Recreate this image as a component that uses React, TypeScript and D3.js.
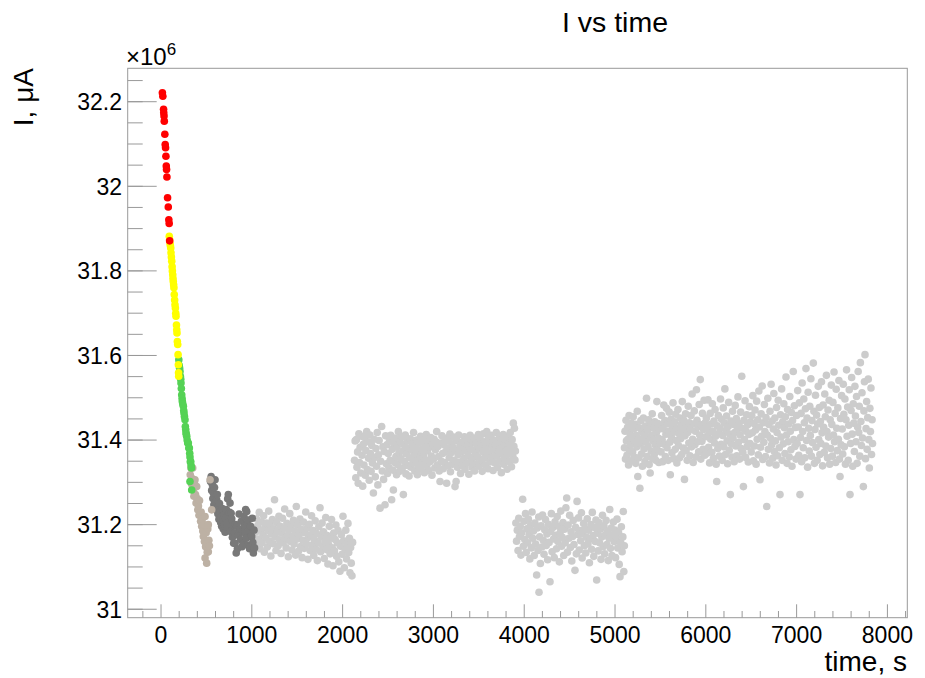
import React from 'react';
import * as d3 from 'd3';

const W = 925;
const H = 678;
const FRAME = { left: 127.7, right: 907.3, top: 68.3, bottom: 617.7 };
const X_DOMAIN: [number, number] = [-367, 8219];
const Y_DOMAIN: [number, number] = [30.98, 32.279];

const X_TICKS = [0, 1000, 2000, 3000, 4000, 5000, 6000, 7000, 8000];
const X_TICK_LABELS = ['0', '1000', '2000', '3000', '4000', '5000', '6000', '7000', '8000'];
const Y_TICKS = [31, 31.2, 31.4, 31.6, 31.8, 32, 32.2];
const Y_TICK_LABELS = ['31', '31.2', '31.4', '31.6', '31.8', '32', '32.2'];

const TITLE = 'I vs time';
const X_TITLE = 'time, s';
const Y_TITLE = 'I, \u03BCA';

// current values in mA  (1 mA = 1e3 µA  ->  value/1000 in units of 1e6 µA)
const RED: [number, number][] = [[15,32221],[20,32213],[28,32182],[30,32174],[33,32166],[36,32154],[42,32123],[46,32099],[50,32091],[54,32071],[58,32048],[61,32040],[65,32022],[72,31973],[80,31951],[86,31921],[90,31912],[95,31871]];

const YELLOW: [number, number][] = [[91,31882],[95,31874],[99,31866],[103,31860],[107,31854],[110,31843],[114,31833],[118,31823],[122,31810],[125,31800],[129,31791],[132,31782],[135,31775],[139,31767],[142,31760],[146,31744],[150,31731],[154,31720],[158,31712],[162,31700],[165,31693],[170,31672],[173,31661],[176,31653],[180,31633],[184,31626],[188,31602],[191,31578],[193,31559],[195,31551]];

const GREEN: [number, number][] = [[196,31590],[200,31577],[205,31570],[209,31562],[213,31551],[217,31544],[220,31535],[224,31522],[228,31507],[232,31498],[235,31491],[240,31485],[246,31480],[250,31470],[253,31464],[258,31456],[264,31448],[268,31432],[272,31425],[275,31417],[279,31413],[283,31409],[288,31400],[294,31393],[301,31393],[306,31381],[312,31381],[316,31369],[319,31360],[323,31349],[327,31349],[331,31340],[335,31334],[319,31302],[338,31282]];

const TAN: [number, number][] = [[322,31318],[330,31334],[336,31296],[343,31309],[349,31334],[356,31283],[362,31267],[368,31298],[374,31306],[380,31271],[386,31251],[393,31290],[399,31262],[405,31235],[412,31244],[418,31222],[424,31257],[430,31223],[436,31208],[442,31230],[448,31196],[454,31214],[460,31185],[466,31172],[472,31200],[478,31160],[485,31219],[485,31121],[491,31148],[497,31181],[503,31156],[503,31109],[509,31135],[515,31190],[521,31200],[521,31136],[527,31163],[533,31150],[540,31306],[558,31235]];

const DARK: [number, number][] = [[545,31302],[552,31314],[558,31281],[565,31295],[571,31262],[576,31275],[582,31247],[589,31288],[595,31306],[602,31254],[608,31235],[613,31259],[620,31271],[626,31226],[631,31242],[638,31213],[644,31250],[650,31230],[657,31205],[662,31219],[668,31196],[675,31238],[681,31210],[686,31190],[693,31224],[700,31201],[706,31182],[713,31215],[720,31236],[727,31194],[734,31261],[741,31271],[747,31206],[754,31229],[760,31251],[766,31184],[772,31227],[779,31214],[786,31170],[793,31198],[800,31156],[808,31181],[815,31156],[822,31200],[828,31133],[834,31196],[841,31143],[850,31175],[860,31225],[868,31189],[876,31165],[884,31208],[892,31148],[900,31183],[906,31156],[913,31219],[920,31198],[925,31180],[932,31236],[938,31168],[944,31231],[950,31201],[956,31152],[961,31211],[968,31186],[975,31143],[980,31148],[987,31196],[993,31172],[999,31172],[1005,31215],[1011,31158],[1017,31133],[1024,31187],[1030,31145]];

const GREY_1: [number, number][] = [[1042,31182],[1050,31214],[1058,31151],[1066,31198],[1074,31166],[1082,31229],[1090,31143],[1098,31187],[1106,31207],[1114,31158],[1122,31176],[1130,31221],[1138,31135],[1146,31193],[1154,31169],[1162,31204],[1170,31147],[1178,31186],[1186,31232],[1194,31161],[1202,31199],[1210,31126],[1218,31178],[1226,31212],[1234,31155],[1242,31190],[1250,31259],[1258,31171],[1266,31139],[1274,31205],[1282,31183],[1290,31150],[1298,31220],[1306,31164],[1314,31196],[1322,31132],[1330,31180],[1338,31215],[1346,31157],[1354,31191],[1362,31237],[1370,31168],[1378,31145],[1386,31203],[1394,31175],[1402,31124],[1410,31188],[1418,31226],[1426,31160],[1434,31197],[1442,31140],[1450,31172],[1458,31210],[1466,31154],[1474,31185],[1482,31128],[1490,31243],[1498,31166],[1506,31199],[1514,31137],[1522,31177],[1530,31213],[1538,31148],[1546,31189],[1554,31122],[1562,31163],[1570,31206],[1578,31144],[1586,31181],[1594,31230],[1602,31155],[1610,31192],[1618,31118],[1626,31170],[1634,31201],[1642,31139],[1650,31176],[1658,31221],[1666,31152],[1674,31186],[1682,31127],[1690,31164],[1698,31209],[1706,31142],[1714,31179],[1722,31115],[1730,31157],[1738,31195],[1751,31240],[1758,31136],[1766,31171],[1774,31204],[1782,31148],[1790,31183],[1798,31120],[1806,31160],[1814,31217],[1822,31141],[1830,31174],[1838,31107],[1846,31153],[1854,31196],[1862,31131],[1870,31168],[1878,31212],[1886,31145],[1894,31103],[1902,31180],[1910,31138],[1918,31165],[1926,31199],[1934,31125],[1942,31157],[1950,31186],[1958,31112],[1971,31090],[1978,31149],[1986,31176],[1994,31130],[2004,31220],[2011,31162],[2019,31098],[2027,31141],[2035,31187],[2043,31119],[2051,31155],[2059,31203],[2067,31134],[2075,31168],[2081,31086],[2088,31146],[2095,31109],[2103,31079],[2110,31158]];

const GREY_2: [number, number][] = [[2131,31352],[2138,31398],[2145,31311],[2152,31401],[2158,31336],[2165,31372],[2172,31298],[2179,31415],[2186,31347],[2193,31383],[2200,31322],[2207,31409],[2214,31364],[2221,31291],[2228,31390],[2235,31341],[2242,31406],[2249,31317],[2256,31375],[2265,31420],[2272,31330],[2279,31396],[2286,31357],[2293,31305],[2300,31412],[2307,31368],[2314,31326],[2321,31387],[2328,31346],[2339,31275],[2346,31402],[2353,31359],[2360,31313],[2367,31380],[2374,31338],[2381,31418],[2388,31294],[2395,31365],[2402,31399],[2412,31239],[2419,31350],[2430,31432],[2437,31327],[2444,31384],[2451,31307],[2458,31373],[2467,31247],[2474,31410],[2481,31344],[2488,31389],[2495,31321],
[2502,31368],[2509,31335],[2516,31397],[2523,31352],[2530,31411],[2540,31259],[2547,31378],[2554,31329],[2559,31282],[2566,31391],[2573,31347],[2580,31405],[2587,31361],[2594,31318],[2601,31384],[2608,31342],[2614,31420],[2621,31370],[2628,31326],[2635,31395],[2642,31356],[2649,31408],[2656,31333],[2663,31374],[2669,31271],[2676,31389],[2683,31349],[2690,31412],[2697,31320],[2704,31367],[2711,31398],[2718,31340],[2725,31381],[2732,31315],[2739,31358],[2746,31403],[2753,31336],[2760,31376],[2767,31392],[2774,31345],[2781,31418],[2788,31362],[2795,31327],[2802,31386],[2809,31351],[2816,31400],[2823,31318],[2830,31372],[2837,31338],[2844,31394],[2851,31360],[2858,31409],[2865,31331],[2872,31379],[2879,31346],[2886,31402],[2893,31365],[2900,31323],[2907,31388],[2914,31353],[2921,31413],[2928,31339],[2935,31375],[2942,31397],[2949,31328],[2956,31383],[2963,31349],[2970,31406],[2977,31362],[2984,31317],[2991,31390],
[3001,31355],[3008,31402],[3015,31334],[3022,31377],[3029,31396],[3036,31420],[3043,31341],[3050,31385],[3057,31361],[3064,31327],[3073,31302],[3080,31393],[3087,31350],[3094,31410],[3101,31368],[3108,31332],[3115,31389],[3122,31347],[3129,31404],[3136,31373],[3146,31298],[3153,31381],[3160,31339],[3167,31398],[3174,31358],[3181,31414],[3188,31325],[3195,31370],[3202,31391],[3209,31343],[3216,31383],[3223,31407],[3230,31352],[3238,31290],[3245,31376],[3250,31302],[3257,31399],[3264,31336],[3271,31366],[3278,31412],[3285,31348],[3292,31387],[3299,31321],[3306,31372],[3313,31395],[3320,31340],[3327,31380],[3334,31356],[3341,31408],[3348,31331],[3355,31374],[3362,31401],[3369,31345],[3376,31389],[3383,31363],[3390,31319],[3397,31384],[3404,31411],[3411,31350],[3418,31377],[3425,31336],[3432,31397],[3439,31359],[3446,31405],[3453,31327],[3460,31371],[3467,31392],[3474,31344],[3481,31386],[3488,31361],[3495,31413],
[3502,31338],[3509,31379],[3516,31402],[3523,31352],[3530,31390],[3537,31326],[3544,31373],[3551,31415],[3558,31357],[3565,31396],[3572,31341],[3579,31383],[3587,31420],[3594,31364],[3601,31332],[3608,31405],[3615,31370],[3622,31348],[3629,31392],[3636,31411],[3643,31359],[3650,31384],[3657,31328],[3664,31376],[3671,31399],[3678,31346],[3685,31388],[3692,31418],[3699,31362],[3706,31335],[3713,31394],[3720,31371],[3727,31408],[3734,31350],[3741,31381],[3748,31323],[3755,31397],[3762,31366],[3769,31413],[3776,31343],[3783,31386],[3790,31402],[3797,31357],[3804,31376],[3811,31331],[3818,31409],[3825,31368],[3832,31392],[3839,31349],[3846,31418],[3853,31380],[3860,31337],[3867,31401],[3874,31362],[3880,31440],[3886,31385],[3892,31428],[3898,31353],[3903,31374]];

const GREY_3: [number, number][] = [[3908,31204],[3916,31161],[3924,31187],[3932,31139],[3940,31215],[3948,31172],[3956,31196],[3964,31128],[3972,31181],[3983,31260],[3990,31149],[3998,31208],[4006,31165],[4014,31226],[4022,31134],[4030,31190],[4038,31157],[4046,31213],[4054,31176],[4062,31119],[4070,31199],[4078,31145],[4086,31230],[4094,31168],[4102,31185],[4110,31127],[4118,31204],[4126,31154],[4137,31081],[4144,31192],[4152,31139],[4160,31218],[4163,31040],[4170,31171],[4178,31108],[4186,31197],[4194,31147],[4202,31223],[4210,31163],[4218,31130],[4226,31188],[4234,31212],[4242,31151],[4250,31178],[4258,31117],[4266,31201],[4274,31158],[4284,31065],[4291,31184],[4299,31226],[4307,31136],[4315,31193],[4323,31166],[4331,31122],[4339,31207],[4347,31175],[4355,31143],[4363,31219],[4371,31160],[4379,31196],[4387,31112],[4395,31181],[4403,31232],[4411,31149],[4419,31170],[4427,31205],[4435,31127],[4443,31189],[4451,31157],[4459,31240],[4468,31263],[4476,31135],[4484,31199],[4492,31168],[4500,31222],[4508,31146],[4516,31183],[4524,31114],[4532,31172],[4540,31210],[4548,31153],[4559,31092],[4566,31194],[4574,31131],[4582,31255],[4590,31177],[4598,31216],[4606,31140],[4614,31186],[4622,31162],[4630,31228],[4638,31121],[4646,31179],[4654,31203],[4662,31150],[4670,31191],[4678,31133],[4686,31170],[4694,31214],[4702,31155],[4710,31187],[4718,31110],[4726,31166],[4734,31200],[4742,31142],[4750,31229],[4758,31174],[4766,31125],[4774,31193],[4782,31160],[4790,31211],[4798,31069],[4806,31180],[4814,31138],[4822,31205],[4830,31157],[4838,31189],[4846,31118],[4854,31171],[4862,31222],[4870,31148],[4878,31197],[4886,31131],[4894,31176],[4902,31210],[4910,31153],[4918,31185],[4926,31115],[4934,31168],[4942,31236],[4950,31144],[4958,31192],[4966,31127],[4974,31174],[4982,31206],[4990,31160],[4998,31187],[5006,31122],[5014,31170],[5022,31213],[5030,31145],[5038,31182],[5046,31106],[5055,31077],[5062,31158],[5070,31195],[5078,31136],[5086,31171],[5091,31231],[5097,31089],[5103,31150]];

const GREY_4: [number, number][] = [[5104,31382],[5110,31421],[5115,31355],[5121,31447],[5126,31398],[5132,31364],[5138,31430],[5143,31402],[5149,31341],[5155,31458],[5160,31376],[5166,31415],[5172,31389],[5177,31440],[5183,31351],[5189,31408],[5194,31372],[5200,31455],[5206,31426],[5211,31360],[5217,31398],[5223,31437],[5228,31345],[5234,31411],[5240,31384],[5245,31468],[5251,31314],[5257,31402],[5262,31358],[5268,31429],[5274,31286],[5279,31391],[5285,31446],[5291,31367],[5296,31420],[5302,31338],[5308,31405],[5313,31452],[5319,31379],[5325,31414],[5330,31349],[5336,31433],[5342,31396],[5347,31499],[5353,31361],[5359,31423],[5364,31385],[5370,31448],[5376,31342],[5381,31407],[5387,31322],[5393,31436],[5398,31374],[5404,31411],[5410,31462],[5415,31356],[5421,31398],[5427,31428],[5432,31365],[5438,31443],[5444,31389],[5449,31352],[5455,31417],[5461,31491],[5466,31377],[5472,31439],[5478,31404],[5483,31347],[5489,31426],[5495,31392],
[5501,31436],[5507,31372],[5513,31458],[5519,31401],[5525,31349],[5531,31427],[5537,31483],[5543,31390],[5549,31446],[5555,31361],[5561,31414],[5567,31475],[5573,31382],[5579,31438],[5585,31352],[5591,31420],[5597,31466],[5603,31395],[5609,31318],[5615,31449],[5621,31407],[5627,31370],[5633,31432],[5639,31488],[5645,31356],[5651,31419],[5657,31443],[5663,31378],[5669,31461],[5675,31399],[5681,31346],[5687,31428],[5693,31472],[5699,31387],[5705,31415],[5711,31358],[5717,31452],[5723,31403],[5729,31437],[5735,31366],[5741,31491],[5747,31424],[5753,31381],[5759,31446],[5765,31307],[5771,31410],[5777,31462],[5783,31375],[5789,31433],[5795,31352],[5801,31418],[5807,31480],[5813,31393],[5819,31441],[5825,31363],[5831,31425],[5837,31458],[5843,31384],[5849,31509],[5855,31402],[5861,31347],[5867,31438],[5873,31469],[5879,31389],[5885,31421],[5891,31360],[5897,31519],[5903,31447],[5909,31396],[5915,31431],[5921,31372],[5927,31484],[5933,31412],[5939,31543],[5945,31355],[5951,31436],[5957,31397],[5963,31463],[5969,31378],[5975,31425],[5981,31494],[5987,31364],[5993,31441],
[6000,31408],[6006,31452],[6012,31369],[6018,31431],[6024,31495],[6030,31383],[6036,31417],[6042,31346],[6048,31463],[6054,31402],[6060,31438],[6066,31371],[6072,31486],[6078,31421],[6084,31357],[6090,31445],[6096,31393],[6102,31472],[6108,31409],[6114,31343],[6120,31302],[6126,31434],[6132,31380],[6138,31458],[6144,31415],[6150,31362],[6156,31427],[6162,31497],[6168,31390],[6174,31449],[6180,31352],[6186,31411],[6192,31476],[6198,31384],[6204,31440],[6210,31521],[6216,31366],[6222,31423],[6228,31457],[6234,31398],[6240,31344],[6246,31432],[6252,31489],[6258,31376],[6264,31414],[6270,31271],[6276,31445],[6282,31391],[6288,31360],[6294,31468],[6300,31405],[6306,31437],[6312,31349],[6318,31418],[6324,31482],[6330,31386],[6336,31451],[6342,31363],[6348,31426],[6354,31502],[6360,31395],[6366,31439],[6372,31355],[6378,31412],[6384,31466],[6390,31380],[6396,31551],[6402,31428],[6408,31371],[6414,31290],[6420,31447],[6426,31401],[6432,31493],[6438,31359],[6444,31421],[6450,31460],[6456,31385],[6462,31436],[6468,31348],[6474,31413],[6480,31479],[6486,31392],[6492,31443],
[6500,31372],[6506,31458],[6512,31417],[6518,31505],[6524,31351],[6530,31439],[6536,31386],[6542,31471],[6548,31424],[6554,31343],[6560,31492],[6566,31402],[6572,31448],[6578,31365],[6584,31516],[6590,31431],[6597,31306],[6603,31383],[6609,31462],[6615,31409],[6621,31528],[6627,31354],[6633,31441],[6639,31395],[6645,31484],[6651,31420],[6657,31361],[6663,31453],[6671,31243],[6677,31412],[6683,31499],[6689,31378],[6695,31437],[6701,31346],[6707,31468],[6713,31404],[6719,31532],[6725,31389],[6731,31445],[6737,31357],[6743,31426],[6749,31510],[6755,31373],[6761,31452],[6767,31398],[6773,31341],[6779,31477],[6785,31418],[6791,31363],[6797,31494],[6803,31435],[6809,31382],[6817,31271],[6823,31460],[6829,31407],[6835,31521],[6841,31352],[6847,31443],[6853,31391],[6859,31486],[6865,31429],[6871,31368],[6877,31455],[6883,31549],[6889,31412],[6895,31345],[6901,31472],[6907,31396],[6913,31438],[6919,31360],[6925,31503],[6931,31421],[6937,31377],[6943,31465],[6949,31338],[6955,31446],[6963,31562],[6969,31401],[6975,31481],[6981,31385],[6987,31430],[6993,31355],
[7000,31458],[7006,31392],[7012,31517],[7018,31431],[7024,31364],[7030,31488],[7037,31271],[7043,31406],[7049,31463],[7055,31349],[7061,31535],[7067,31420],[7073,31382],[7079,31497],[7085,31441],[7091,31358],[7097,31474],[7103,31569],[7109,31399],[7115,31452],[7121,31336],[7127,31513],[7133,31428],[7139,31374],[7145,31480],[7151,31411],[7157,31545],[7163,31362],[7169,31446],[7175,31394],[7184,31582],[7190,31468],[7196,31345],[7202,31425],[7208,31506],[7214,31383],[7220,31459],[7226,31352],[7232,31438],[7238,31527],[7244,31401],[7250,31477],[7256,31366],[7262,31444],[7268,31392],[7274,31538],[7280,31417],[7286,31339],[7292,31483],[7298,31430],[7304,31371],[7310,31509],[7316,31455],[7322,31386],[7328,31553],[7334,31420],[7340,31358],[7346,31471],[7352,31407],[7358,31494],[7364,31343],[7370,31448],[7376,31380],[7382,31530],[7388,31437],[7394,31362],[7400,31489],[7406,31412],[7412,31561],[7418,31396],[7424,31463],[7430,31347],[7436,31520],[7442,31428],[7448,31375],[7454,31476],[7460,31402],[7466,31541],[7472,31355],[7478,31314],[7484,31451],[7490,31389],[7496,31505],
[7502,31426],[7508,31367],[7514,31532],[7520,31461],[7526,31384],[7532,31497],[7538,31343],[7544,31448],[7550,31566],[7556,31409],[7562,31478],[7568,31352],[7574,31435],[7580,31519],[7588,31271],[7594,31392],[7600,31470],[7606,31548],[7612,31414],[7618,31338],[7624,31486],[7630,31440],[7636,31373],[7642,31527],[7648,31457],[7654,31396],[7660,31503],[7666,31345],[7672,31431],[7678,31562],[7684,31418],[7690,31480],[7696,31362],[7702,31583],[7708,31444],[7714,31387],[7720,31512],[7726,31405],[7735,31290],[7741,31469],[7747,31538],[7753,31602],[7759,31356],[7765,31427],[7771,31491],[7777,31378],[7783,31453],[7789,31544],[7795,31401],[7801,31334],[7807,31475],[7813,31420],[7819,31523],[7825,31366],[7831,31448],[7836,31392]];

const SERIES: { name: string; data: [number, number][]; color: string }[] = [
  { name: 'grey1', data: GREY_1, color: '#cccccc' },
  { name: 'grey2', data: GREY_2, color: '#cccccc' },
  { name: 'grey3', data: GREY_3, color: '#cccccc' },
  { name: 'grey4', data: GREY_4, color: '#cccccc' },
  { name: 'dark', data: DARK, color: '#787878' },
  { name: 'tan', data: TAN, color: '#bdb1a4' },
  { name: 'green', data: GREEN, color: '#55d255' },
  { name: 'yellow', data: YELLOW, color: '#ffff00' },
  { name: 'red', data: RED, color: '#ff0000' },
];

const FONT = "'Liberation Sans', Arial, Helvetica, sans-serif";

export default function App() {
  const x = d3.scaleLinear().domain(X_DOMAIN).range([FRAME.left, FRAME.right]);
  const y = d3.scaleLinear().domain(Y_DOMAIN).range([FRAME.bottom, FRAME.top]);

  const xMinor = d3.range(-3, 42).map((i) => i * 200).filter((v) => v >= X_DOMAIN[0] && v <= X_DOMAIN[1] && v % 1000 !== 0);
  const yMinor = d3.range(0, 27).map((i) => 30.95 + i * 0.05).filter((v) => v >= Y_DOMAIN[0] && v <= Y_DOMAIN[1]);

  const axisColor = '#999999';
  const r = 3.8;

  return (
    <svg width={W} height={H} style={{ position: 'absolute', left: 0, top: 0, background: '#fff' }}>
      <rect x={0} y={0} width={W} height={H} fill="#fff" />
      {SERIES.map((s) => (
        <g key={s.name} fill={s.color}>
          {s.data.map((d, i) => (
            <circle key={i} cx={x(d[0])} cy={y(d[1] / 1000)} r={r} />
          ))}
        </g>
      ))}
      <rect x={FRAME.left} y={FRAME.top} width={FRAME.right - FRAME.left} height={FRAME.bottom - FRAME.top} fill="none" stroke={axisColor} strokeWidth={1} />
      {yMinor.map((v, i) => (
        <line key={'ym' + i} x1={FRAME.left} x2={FRAME.left + 15} y1={y(v)} y2={y(v)} stroke={axisColor} strokeWidth={1} />
      ))}
      {Y_TICKS.map((v, i) => (
        <g key={'yt' + i}>
          <line x1={FRAME.left} x2={FRAME.left + 29} y1={y(v)} y2={y(v)} stroke={axisColor} strokeWidth={1} />
          <text x={122} y={y(v)} dy="0.36em" textAnchor="end" fontFamily={FONT} fontSize={23} fill="#000">{Y_TICK_LABELS[i]}</text>
        </g>
      ))}
      {xMinor.map((v, i) => (
        <line key={'xm' + i} x1={x(v)} x2={x(v)} y1={FRAME.bottom} y2={FRAME.bottom - 6.7} stroke={axisColor} strokeWidth={1} />
      ))}
      {X_TICKS.map((v, i) => (
        <g key={'xt' + i}>
          <line x1={x(v)} x2={x(v)} y1={FRAME.bottom} y2={FRAME.bottom - 13.4} stroke={axisColor} strokeWidth={1} />
          <text x={x(v)} y={642.7} textAnchor="middle" fontFamily={FONT} fontSize={23} fill="#000">{X_TICK_LABELS[i]}</text>
        </g>
      ))}
      <text x={126} y={65} fontFamily={FONT} fontSize={24} fill="#000">
        {'\u00D710'}
        <tspan fontSize={17} dy={-10}>6</tspan>
      </text>
      <text x={615} y={32.3} textAnchor="middle" fontFamily={FONT} fontSize={28.5} fill="#000">{TITLE}</text>
      <text x={907} y={671} textAnchor="end" fontFamily={FONT} fontSize={28} fill="#000">{X_TITLE}</text>
      <text transform={`translate(33,68) rotate(-90)`} textAnchor="end" fontFamily={FONT} fontSize={28} fill="#000">{Y_TITLE}</text>
    </svg>
  );
}
